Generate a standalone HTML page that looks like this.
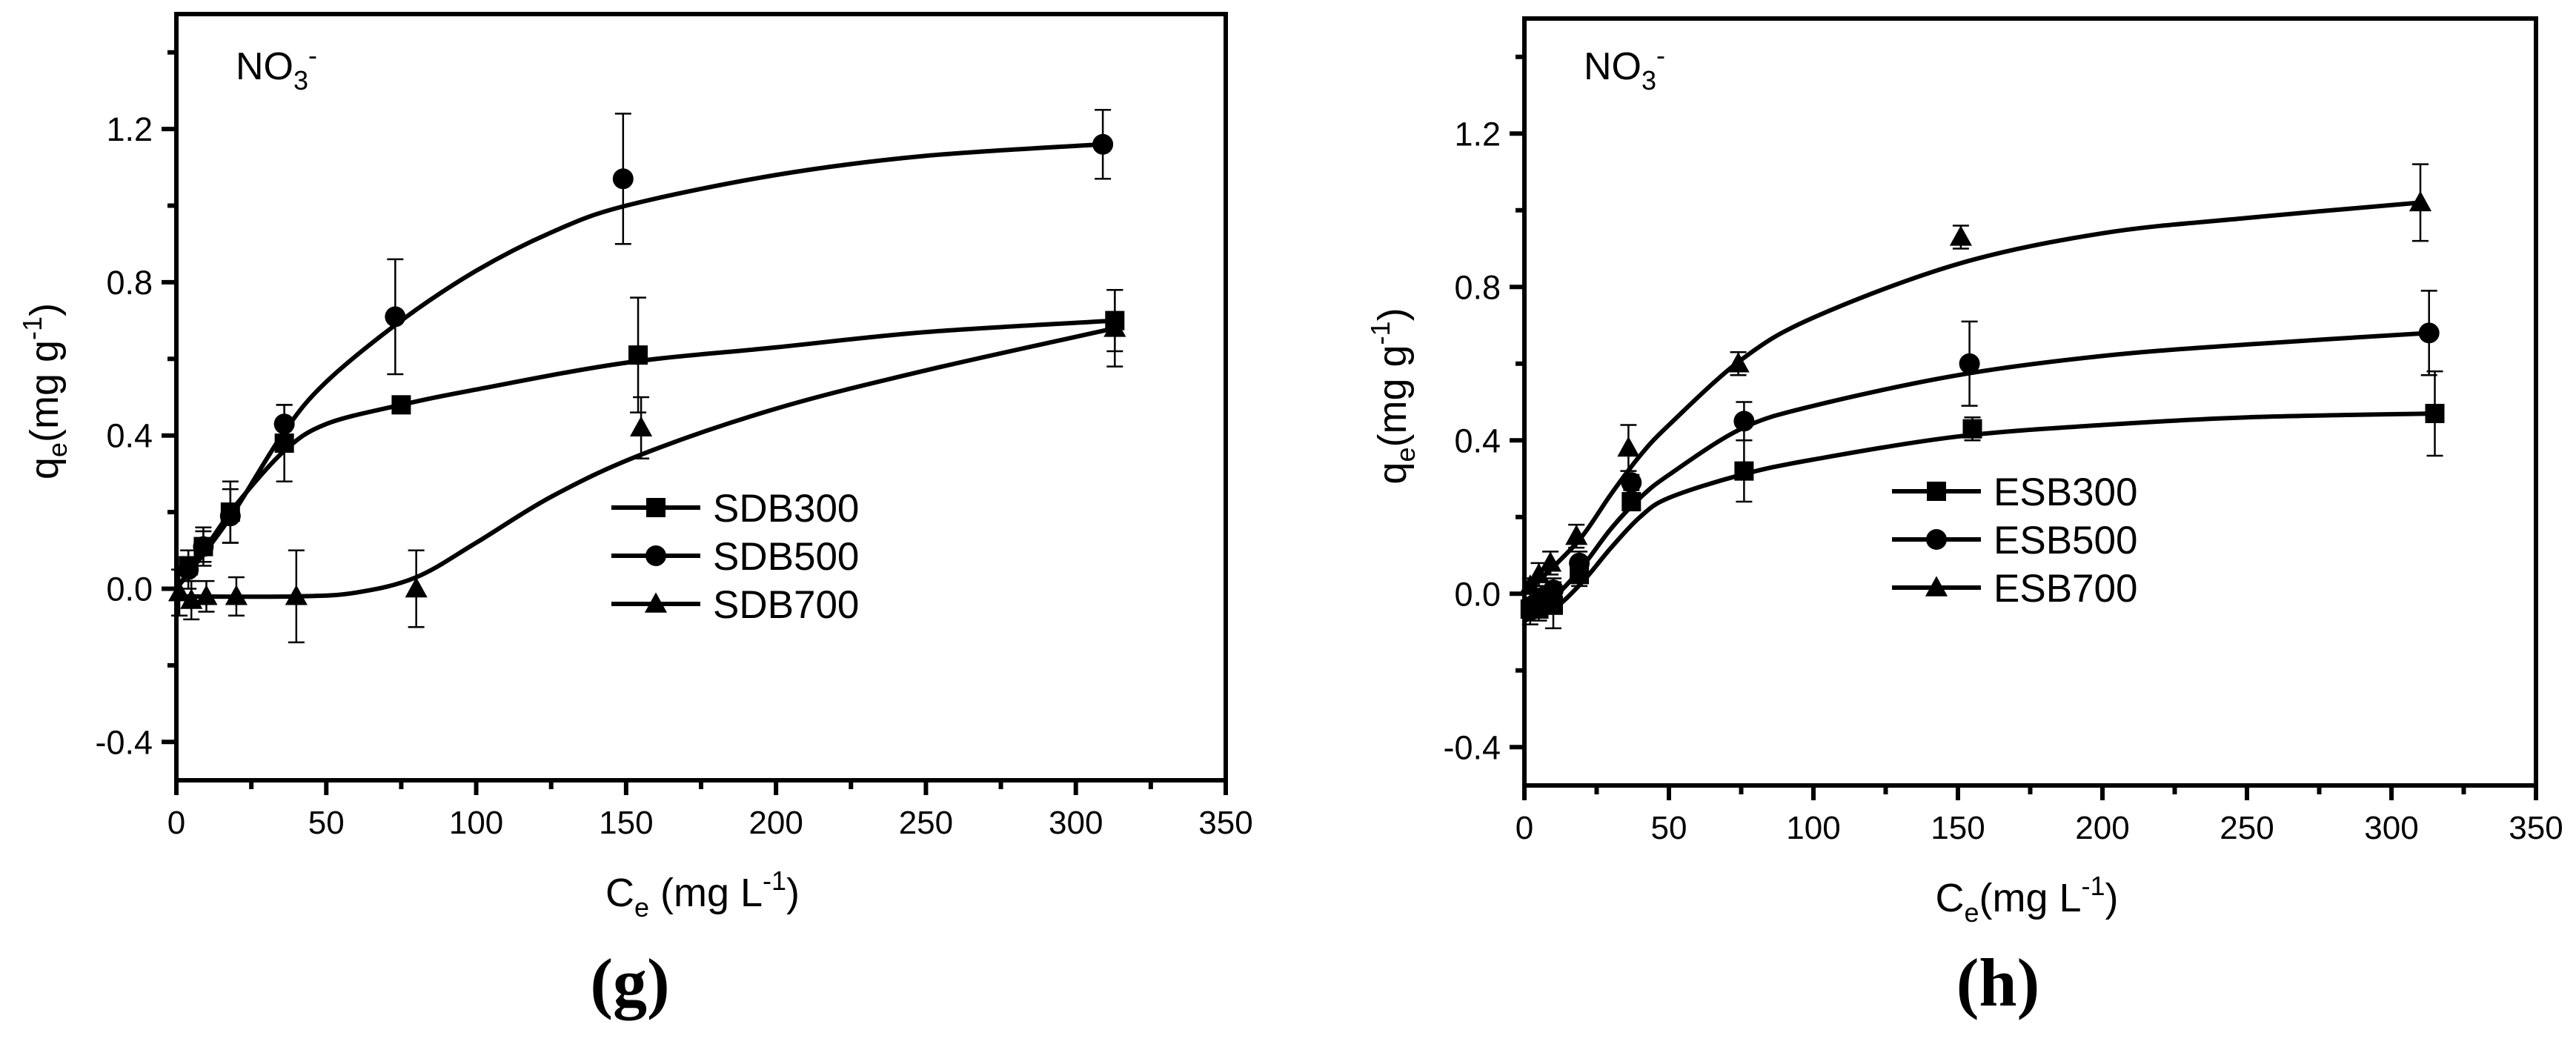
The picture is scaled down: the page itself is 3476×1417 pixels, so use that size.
<!DOCTYPE html>
<html><head><meta charset="utf-8">
<style>
html,body{margin:0;padding:0;background:#fff;}
svg{display:block;}
text{font-family:"Liberation Sans",Arial,sans-serif;fill:#000;}
.serif{font-family:"Liberation Serif","Times New Roman",serif;font-weight:bold;}
</style></head>
<body>
<svg id="fig" width="3476" height="1417" viewBox="0 0 3476 1417" xmlns="http://www.w3.org/2000/svg"></svg>
<script>
// ---------- Panel g data (SDB) ----------
const xTicks = [0,50,100,150,200,250,300,350];
const yTicks = [-0.4,0.0,0.4,0.8,1.2];
const yTickLabels = ["-0.4","0.0","0.4","0.8","1.2"];
const gNames = ["SDB300","SDB500","SDB700"];
const gSDB300x = [4,9,18,36,75,154,313];
const gSDB300y = [0.06,0.11,0.20,0.38,0.48,0.61,0.70];
const gSDB300e = [0.04,0.04,0.08,0.10,0.01,0.15,0.08];
const gSDB500x = [4,9,18,36,73,149,309];
const gSDB500y = [0.05,0.11,0.19,0.43,0.71,1.07,1.16];
const gSDB500e = [0.05,0.05,0.07,0.05,0.15,0.17,0.09];
const gSDB700x = [1,5,10,20,40,80,155,313];
const gSDB700y = [-0.01,-0.03,-0.02,-0.02,-0.02,0.00,0.42,0.68];
const gSDB700e = [0.06,0.05,0.04,0.05,0.12,0.10,0.08,0.10];
const gFit300x = [0,10,20,36,50,75,100,150,200,250,313];
const gFit300y = [0.0,0.11,0.22,0.36,0.43,0.48,0.52,0.59,0.63,0.67,0.70];
const gFit500x = [0,10,20,36,50,75,100,125,150,200,250,309];
const gFit500y = [0.0,0.10,0.21,0.41,0.54,0.70,0.83,0.93,1.00,1.08,1.13,1.16];
const gFit700x = [0,40,60,80,100,125,155,200,250,313];
const gFit700y = [-0.02,-0.02,-0.01,0.03,0.12,0.24,0.35,0.47,0.57,0.68];
// ---------- Panel h data (ESB) ----------
const hNames = ["ESB300","ESB500","ESB700"];
const hESB300x = [2,5,10,19,37,76,155,315];
const hESB300y = [-0.04,-0.04,-0.03,0.05,0.24,0.32,0.43,0.47];
const hESB300e = [0.04,0.03,0.06,0.03,0.02,0.08,0.03,0.11];
const hESB500x = [3,6,10,19,37,76,154,313];
const hESB500y = [-0.03,-0.01,0.01,0.08,0.29,0.45,0.60,0.68];
const hESB500e = [0.03,0.03,0.03,0.03,0.02,0.05,0.11,0.11];
const hESB700x = [2,5,9,18,36,74,151,310];
const hESB700y = [0.02,0.05,0.08,0.15,0.38,0.60,0.93,1.02];
const hESB700e = [0.02,0.03,0.03,0.03,0.06,0.03,0.03,0.10];
const hFit300x = [0,10,20,30,40,50,75,100,150,200,250,315];
const hFit300y = [-0.07,-0.04,0.03,0.12,0.20,0.25,0.31,0.35,0.41,0.44,0.46,0.47];
const hFit500x = [0,10,20,30,40,50,75,100,150,200,250,313];
const hFit500y = [-0.05,-0.01,0.07,0.17,0.25,0.31,0.43,0.49,0.57,0.62,0.65,0.68];
const hFit700x = [0,10,20,30,40,50,75,100,150,200,250,310];
const hFit700y = [0.0,0.07,0.15,0.26,0.36,0.44,0.61,0.72,0.86,0.94,0.98,1.02];

const NS="http://www.w3.org/2000/svg";
const svg=document.getElementById('fig');
function mk(tag,attrs,parent){const e=document.createElementNS(NS,tag);for(const k in attrs)e.setAttribute(k,attrs[k]);(parent||svg).appendChild(e);return e;}

function marker(g,shape,cx,cy,s){
  let m;
  if(shape==='square') m=mk('rect',{x:cx-s/2,y:cy-s/2,width:s,height:s,fill:'#000'},g);
  else if(shape==='circle') m=mk('circle',{cx:cx,cy:cy,r:s/2+1,fill:'#000'},g);
  else m=mk('polygon',{points:`${cx},${cy-s*0.6} ${cx-s*0.58},${cy+s*0.45} ${cx+s*0.58},${cy+s*0.45}`,fill:'#000'},g);
  return m;
}
function smoothPath(pts){
  let d=`M${pts[0][0]},${pts[0][1]}`;
  for(let i=0;i<pts.length-1;i++){
    const p0=pts[Math.max(0,i-1)],p1=pts[i],p2=pts[i+1],p3=pts[Math.min(pts.length-1,i+2)];
    const c1x=p1[0]+(p2[0]-p0[0])/6,c1y=p1[1]+(p2[1]-p0[1])/6;
    const c2x=p2[0]-(p3[0]-p1[0])/6,c2y=p2[1]-(p3[1]-p1[1])/6;
    d+=` C${c1x},${c1y} ${c2x},${c2y} ${p2[0]},${p2[1]}`;
  }
  return d;
}

function panel(cfg){
  const {id,L,R,T,B,series,names,legX,legY,xlabelX,xlabelSpace,letter,letterX}=cfg;
  const X=v=>L+(v-0)/(350-0)*(R-L);
  const Y=v=>B-(v-(-0.5))/(1.5-(-0.5))*(B-T);
  const g=mk('g',{});
  
  
  const fr=mk('rect',{x:L,y:T,width:R-L,height:B-T,fill:'none',stroke:'#000','stroke-width':6},g);
  
  for(let v=0;v<=350;v+=25){
    const major=(v%50===0);
    const t=mk('line',{x1:X(v),x2:X(v),y1:B,y2:B+(major?20:12),stroke:'#000','stroke-width':6},g);
    
  }
  xTicks.forEach(v=>{
    const t=mk('text',{x:X(v),y:B+72,'font-size':44,'text-anchor':'middle'},g);t.textContent=String(v);
    
  });
  for(let k=-2;k<=7;k++){
    const v=k*0.2;const major=(k%2===0);
    const t=mk('line',{x1:L,x2:L-(major?20:12),y1:Y(v),y2:Y(v),stroke:'#000','stroke-width':6},g);
    
  }
  yTicks.forEach((v,i)=>{
    const t=mk('text',{x:L-32,y:Y(v)+16,'font-size':45,'text-anchor':'end'},g);t.textContent=yTickLabels[i];
    
  });
  const yt=mk('text',{x:0,y:0,'font-size':54,'text-anchor':'middle',transform:`translate(${L-160},${(T+B)/2-8}) rotate(-90)`},g);
  yt.innerHTML='q<tspan font-size="36" dy="12">e</tspan><tspan dy="-12">(mg g</tspan><tspan font-size="36" dy="-22">-1</tspan><tspan dy="22">)</tspan>';
  
  const xt=mk('text',{x:xlabelX,y:B+170,'font-size':54,'text-anchor':'middle'},g);
  xt.innerHTML='C<tspan font-size="36" dy="14">e</tspan><tspan dy="-14">'+xlabelSpace+'(mg L</tspan><tspan font-size="36" dy="-22">-1</tspan><tspan dy="22">)</tspan>';
  
  const lt=mk('text',{x:letterX,y:1357,'font-size':92,'text-anchor':'middle','class':'serif'},g);
  lt.textContent='('+letter+')';
  
  const ion=mk('text',{x:L+80,y:107,'font-size':52},g);
  ion.innerHTML='NO<tspan font-size="36" dy="14">3</tspan><tspan font-size="36" dy="-34">-</tspan>';
  
  series.forEach((s,si)=>{
    const sg=mk('g',{},g);
    
    
    const pts=s.fx.map((v,i)=>[X(v),Y(s.fy[i])]);
    const fit=mk('path',{d:smoothPath(pts),fill:'none',stroke:'#000','stroke-width':6,'stroke-linejoin':'round'},sg);
    
    s.x.forEach((v,i)=>{
      const cx=X(v),cy=Y(s.y[i]),y1=Y(s.y[i]+s.e[i]),y2=Y(s.y[i]-s.e[i]);
      const eb=mk('path',{d:`M${cx},${y1}V${y2}M${cx-11},${y1}H${cx+11}M${cx-11},${y2}H${cx+11}`,stroke:'#000','stroke-width':2.5,fill:'none'},sg);
      
      const m=marker(sg,s.shape,cx,cy,26);
      
    });
  });
  const lg=mk('g',{},g);
  
  series.forEach((s,si)=>{
    const y=legY+si*65;
    const e=mk('g',{},lg);
    
    mk('line',{x1:legX,x2:legX+120,y1:y,y2:y,stroke:'#000','stroke-width':6},e);
    marker(e,s.shape,legX+60,y,26);
    const t=mk('text',{x:legX+137,y:y+19,'font-size':53},e);t.textContent=names[si];
  });
}

panel({id:'chart-g',L:238,R:1654,T:19,B:1053,names:gNames,legX:825,legY:685,xlabelX:948,xlabelSpace:' ',letter:'g',letterX:850,
  series:[
    {x:gSDB300x,y:gSDB300y,e:gSDB300e,fx:gFit300x,fy:gFit300y,shape:'square'},
    {x:gSDB500x,y:gSDB500y,e:gSDB500e,fx:gFit500x,fy:gFit500y,shape:'circle'},
    {x:gSDB700x,y:gSDB700y,e:gSDB700e,fx:gFit700x,fy:gFit700y,shape:'triangle'}]});
panel({id:'chart-h',L:2057,R:3422,T:25,B:1060,names:hNames,legX:2553,legY:663,xlabelX:2735,xlabelSpace:'',letter:'h',letterX:2696,
  series:[
    {x:hESB300x,y:hESB300y,e:hESB300e,fx:hFit300x,fy:hFit300y,shape:'square'},
    {x:hESB500x,y:hESB500y,e:hESB500e,fx:hFit500x,fy:hFit500y,shape:'circle'},
    {x:hESB700x,y:hESB700y,e:hESB700e,fx:hFit700x,fy:hFit700y,shape:'triangle'}]});
</script>
</body></html>
